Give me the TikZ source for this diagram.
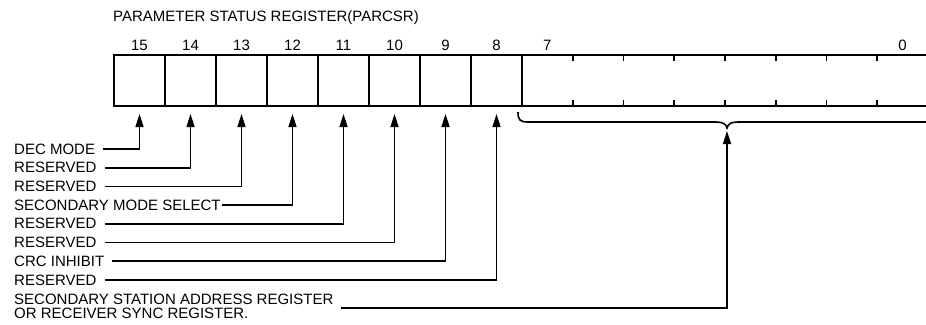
\documentclass[tikz,border=0pt]{standalone}
\usepackage{fontspec}
\setmainfont{Liberation Sans}
\usetikzlibrary{arrows.meta,calc}
\begin{document}
\begin{tikzpicture}[x=1pt,y=-1pt,
  cell/.style={draw,line width=1.8pt,minimum width=51pt,minimum height=51pt,inner sep=0pt,outer sep=0pt},
  lbl/.style={anchor=west,inner sep=0pt,font=\fontsize{15}{15}\selectfont},
  num/.style={inner sep=0pt,font=\fontsize{15}{15}\selectfont},
  conn/.style={line width=1.6pt,-{Triangle[length=13pt,width=8pt]}},
  reg/.style={line width=1.8pt},
  ]
\useasboundingbox (0,0) rectangle (926,324);
% title
\node[lbl] (title) at (113,18) {PARAMETER STATUS REGISTER(PARCSR)};
% bits 15..8
\foreach \b [count=\i from 0] in {15,14,13,12,11,10,9,8} {
  \node[cell] (b\b) at (139.5+51*\i,80.5) {};
  \node[num] (n\b) at (139.5+51*\i,45) {\b};
}
% field 7..0
\draw[reg] (b8.north east) -- ++(412,0);
\draw[reg] (b8.south east) -- ++(412,0);
\foreach \k in {1,...,7} {
  \draw[reg] ($(b8.north east)+(50.75*\k,0)$) -- ++(0,6);
  \draw[reg] ($(b8.south east)+(50.75*\k,0)$) -- ++(0,-6);
}
\node[num] (n7) at (547.4,45) {7};
\node[num] (n0) at (902.6,45) {0};
% brace
\coordinate (braceL) at (518,112);
\coordinate (bracetip) at (727,128);
\draw[line width=1.6pt] (braceL) .. controls (518,120) and (520,122) .. (528,122)
  -- (716,122) .. controls (723,122) and (726,124) .. (bracetip)
  .. controls (728,124) and (731,122) .. (738,122) -- (930,122);
% labels
\node[lbl] (l15) at (14,149) {DEC MODE};
\node[lbl] (l14) at (14,167.7) {RESERVED};
\node[lbl] (l13) at (14,186.4) {RESERVED};
\node[lbl] (l12) at (14,205.1) {SECONDARY MODE SELECT};
\node[lbl] (l11) at (14,223.8) {RESERVED};
\node[lbl] (l10) at (14,242.5) {RESERVED};
\node[lbl] (l9) at (14,261.2) {CRC INHIBIT};
\node[lbl] (l8) at (14,279.9) {RESERVED};
\node[anchor=north west,inner sep=0pt,align=left,font=\fontsize{15}{14}\selectfont] (lsec) at (14,294)
  {SECONDARY STATION ADDRESS REGISTER\\OR RECEIVER SYNC REGISTER.};
% connectors
\draw[conn] ($(l15.east)+(8,0)$) -| ($(b15.south)+(0,8)$);
\draw[conn] ($(l14.east)+(8,0)$) -| ($(b14.south)+(0,8)$);
\draw[conn] ($(l13.east)+(8,0)$) -| ($(b13.south)+(0,8)$);
\draw[conn] ($(l12.east)+(1,0)$) -| ($(b12.south)+(0,8)$);
\draw[conn] ($(l11.east)+(8,0)$) -| ($(b11.south)+(0,8)$);
\draw[conn] ($(l10.east)+(8,0)$) -| ($(b10.south)+(0,8)$);
\draw[conn] ($(l9.east)+(8,0)$) -| ($(b9.south)+(0,8)$);
\draw[conn] ($(l8.east)+(8,0)$) -| ($(b8.south)+(0,8)$);
\draw[conn] ($(lsec.north east)+(7,14)$) -| ($(bracetip)+(0,3)$);
\end{tikzpicture}
\end{document}
